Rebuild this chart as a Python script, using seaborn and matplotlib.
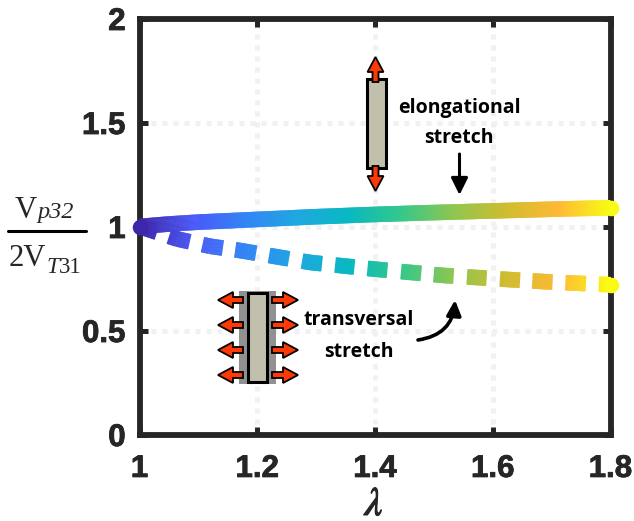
import numpy as np
import pandas as pd
import matplotlib
matplotlib.use('Agg')
import matplotlib.pyplot as plt
import seaborn as sns
import matplotlib.patheffects as pe
from matplotlib.collections import LineCollection
from matplotlib.colors import LinearSegmentedColormap
from matplotlib.lines import Line2D
from matplotlib.patches import Polygon, Rectangle

# values
stretch_elong = [1.0, 1.05, 1.1, 1.2, 1.3, 1.4, 1.5, 1.6, 1.7, 1.8]
ratio_elong = [1.0, 1.012, 1.021, 1.034, 1.047, 1.058, 1.067, 1.075, 1.083, 1.09]
stretch_trans = [1.0, 1.064, 1.12, 1.17, 1.29, 1.4, 1.515, 1.627, 1.7, 1.8]
ratio_trans = [1.0, 0.94, 0.905, 0.885, 0.827, 0.795, 0.765, 0.745, 0.733, 0.72]
x_ticks = [1, 1.2, 1.4, 1.6, 1.8]
x_labels = ['1', '1.2', '1.4', '1.6', '1.8']
y_ticks = [0, 0.5, 1, 1.5, 2]
y_labels = ['0', '0.5', '1', '1.5', '2']

parula = LinearSegmentedColormap.from_list('parula', [
    '#3e26a8', '#4a58f8', '#3385f5', '#1fa8e0', '#08b9c0',
    '#35c88a', '#8fc650', '#d0bc30', '#feb935', '#f9fb15'])

W, H = 634, 521
LEFT, RIGHT, TOP, BOTTOM = 139.5, 610.5, 18.5, 434.5
DARK = '#262626'
RED = '#fb3a06'

sns.set_theme(style='ticks')
plt.rcParams['font.family'] = ['Liberation Sans', 'DejaVu Sans']

fig = plt.figure(figsize=(W / 100, H / 100), dpi=100)
ax = fig.add_axes([LEFT / W, 1 - BOTTOM / H, (RIGHT - LEFT) / W, (BOTTOM - TOP) / H])

df = pd.concat([
    pd.DataFrame({'stretch': stretch_elong, 'ratio': ratio_elong, 'mode': 'elongational'}),
    pd.DataFrame({'stretch': stretch_trans, 'ratio': ratio_trans, 'mode': 'transversal'}),
])
sns.lineplot(data=df, x='stretch', y='ratio', hue='mode', linewidth=0, legend=False, ax=ax)
ax.set_xlim(1, 1.8)
ax.set_ylim(0, 2)


def px(x, y):
    # picture pixels to figure fraction, for the little sketches
    return x / W, 1 - y / H


def gradient(line, dashed=False):
    path = line.get_path().interpolated(60)
    xs, ys = path.vertices[:, 0], path.vertices[:, 1]
    pix = (xs - 1) / 0.8 * (RIGHT - LEFT) + LEFT
    segs = []
    cols = []
    for i in range(len(xs) - 1):
        j = min(i + 2, len(xs) - 1)
        if dashed:
            if (pix[i] - 136) % 33 >= 20 or (pix[j] - 136) % 33 >= 21.5:
                continue
        segs.append([[xs[i], ys[i]], [xs[j], ys[j]]])
        cols.append(parula((xs[i] - 1) / 0.8))
    ax.add_collection(LineCollection(segs, colors=cols, linewidths=11.2, capstyle='butt',
                                     clip_on=False, zorder=5 if dashed else 6))
    # rounded ends
    ax.scatter(xs[-1], ys[-1], s=125, color=parula(1.0), linewidths=0, clip_on=False, zorder=5)
    if not dashed:
        ax.scatter(xs[0], ys[0], s=125, color=parula(0.0), linewidths=0, clip_on=False, zorder=6)


gradient(ax.lines[0])
gradient(ax.lines[1], dashed=True)

ax.set_xticks(x_ticks)
ax.set_xticklabels(x_labels)
ax.set_yticks(y_ticks)
ax.set_yticklabels(y_labels)
ax.set_xlabel('')
ax.set_ylabel('')
ax.tick_params(which='both', direction='in', length=5.5, width=3.6, color=DARK,
               top=True, right=True, labelsize=22.5, labelcolor=DARK, pad=10)
ax.tick_params(axis='x', pad=14)
for lab in ax.get_xticklabels() + ax.get_yticklabels():
    lab.set_fontweight('bold')
    lab.set_path_effects([pe.withStroke(linewidth=0.6, foreground=DARK)])
for s in ax.spines.values():
    s.set_linewidth(4.2)
    s.set_color(DARK)
    s.set_zorder(4)
ax.grid(True, color='#f1f1f1', linewidth=3.6, linestyle=(0, (1, 1.2)))
ax.set_axisbelow(True)

# y label built as a fraction
serif = ['Liberation Serif', 'DejaVu Serif']
fig.text(*px(15, 218), 'V', family=serif, fontsize=22, va='baseline', ha='left')
fig.text(*px(37, 218), 'p32', family=serif, style='italic', fontsize=17.5, va='baseline', ha='left')
fig.add_artist(Line2D([8 / W, 86 / W], [1 - 231 / H] * 2, color='black', lw=2.2))
fig.text(*px(9, 266), '2V', family=serif, fontsize=22, va='baseline', ha='left')
fig.text(*px(46, 273), 'T', family=serif, style='italic', fontsize=16.5, va='baseline', ha='left')
fig.text(*px(59, 273), '31', family=serif, fontsize=16.5, va='baseline', ha='left')

# x label, sits right at the lower edge of the picture
fig.text(*px(374, 515), r'$\mathit{\lambda}$', fontsize=29, ha='center', va='baseline',
         math_fontfamily='stix', color=DARK,
         path_effects=[pe.withStroke(linewidth=0.8, foreground=DARK)])


def red_arrow(x0, y0, x1, y1, zorder=8):
    # block arrow in picture pixels, tail to tip
    d = np.array([x1 - x0, y1 - y0], dtype=float)
    length = np.hypot(*d)
    d /= length
    n = np.array([-d[1], d[0]])
    base = np.array([x0, y0])
    neck = base + d * (length - 15)
    tip = base + d * length
    pts = [base + n * 3, neck + n * 3, neck + n * 8, tip,
           neck - n * 8, neck - n * 3, base - n * 3]
    pts = [px(*p) for p in pts]
    fig.add_artist(Polygon(pts, closed=True, transform=fig.transFigure, facecolor=RED,
                           edgecolor='black', linewidth=1.3, joinstyle='miter', zorder=zorder))


def box(x0, y0, x1, y1, face, edge=None, zorder=7.5, lw=2.2):
    fig.add_artist(Rectangle(px(x0, y1), (x1 - x0) / W, (y1 - y0) / H, transform=fig.transFigure,
                             facecolor=face, edgecolor=edge if edge else 'none',
                             linewidth=lw, zorder=zorder))


# elongational sketch
box(366.5, 79, 385.5, 168, '#c1c0ac', edge='black')
red_arrow(375.5, 82, 375.5, 57)
red_arrow(375.5, 166, 375.5, 191)

# transversal sketch
box(239, 291, 276, 384, '#919191', zorder=7)
box(248, 293, 267, 382, '#c1c0ac', edge='black')
for y in [300, 325, 350, 375]:
    red_arrow(243, y, 218, y)
    red_arrow(272, y, 298, y)

# annotations
sans = ['Open Sans', 'DejaVu Sans']
for x, y, word in [(459, 108, 'elongational'), (459, 138, 'stretch'),
                   (359, 320, 'transversal'), (359, 352, 'stretch')]:
    fig.text(*px(x, y), word, family=sans, fontsize=14, fontweight='bold',
             ha='center', va='center', color='black', zorder=10)

ax.annotate('', xy=px(459.5, 195), xytext=px(459.5, 154), xycoords='figure fraction',
            textcoords='figure fraction',
            arrowprops=dict(arrowstyle='-|>,head_width=0.42,head_length=0.85', color='black',
                            lw=2.2, shrinkA=0, shrinkB=0), zorder=10)
ax.annotate('', xy=px(455, 300), xytext=px(418, 340), xycoords='figure fraction',
            textcoords='figure fraction',
            arrowprops=dict(arrowstyle='-|>,head_width=0.36,head_length=0.75', color='black',
                            lw=2.6, shrinkA=0, shrinkB=0, connectionstyle='arc3,rad=0.4'),
            zorder=10)

fig.savefig('out.png', dpi=100)
